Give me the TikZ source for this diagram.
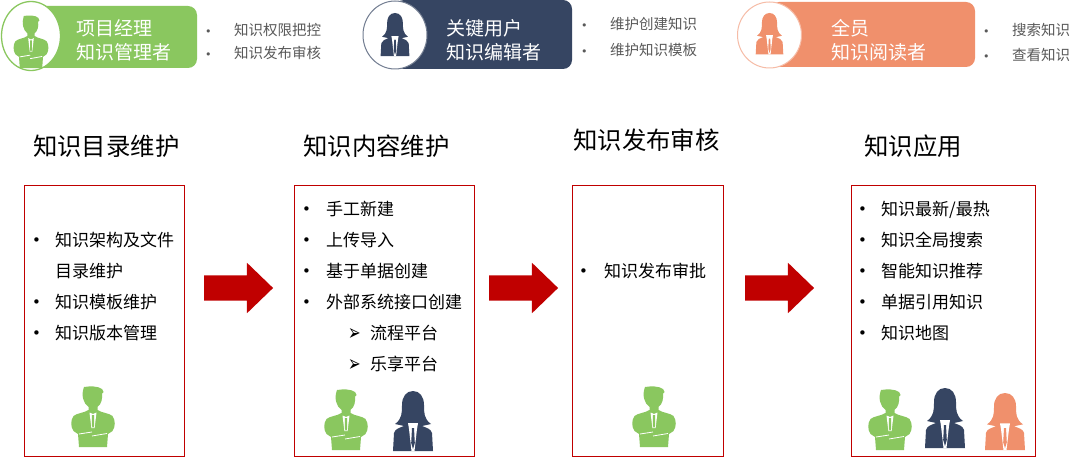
\documentclass[tikz,border=0pt]{standalone}
\usepackage{graphicx}
\usepackage{fontspec}
\setmainfont{Noto Sans CJK SC}
\newfontfamily\symfont{DejaVu Sans}
\usetikzlibrary{shapes.arrows}
\definecolor{leaf}{HTML}{8AC75F}
\definecolor{navy}{HTML}{364562}
\definecolor{coral}{HTML}{F0906C}
\definecolor{panelred}{HTML}{C00000}
\definecolor{note}{HTML}{595959}
\newcommand{\tallarrow}{\scalebox{1}[1.5]{➢}}
\tikzset{
  x=1pt,y=-1pt,
  lbl/.style={inner sep=0pt,anchor=west,text depth=0pt,text height=#1},
  role/.style={lbl=16pt,font=\fontsize{19}{19}\selectfont,text=white},
  duty/.style={lbl=14pt,font=\fontsize{14.5}{14.5}\selectfont,text=note},
  notedot/.style={lbl=13.6pt,font=\symfont\fontsize{11}{11}\selectfont,text=note},
  heading/.style={lbl=20pt,font=\fontsize{24.4}{24.4}\selectfont,text=black},
  item/.style={lbl=13.4pt,font=\fontsize{17}{17}\selectfont,text=black},
  itemdot/.style={lbl=11.4pt,font=\symfont\fontsize{15}{15}\selectfont,text=black},
  subdot/.style={lbl=15pt,font=\symfont\fontsize{15}{15}\selectfont,text=black},
  panel/.style={draw=panelred,line width=1pt,fill=white},
  flow/.style={single arrow,fill=panelred,draw=none,inner xsep=0pt,inner ysep=12.5pt,
    minimum height=69pt,
    single arrow head extend=12.5pt,single arrow tip angle=88,
    single arrow head indent=0pt},
  pics/man/.style={code={
    \fill[#1] (-9,0) .. controls (-3,-1) and (5,-1) .. (9,2) -- (10.5,5) -- (9,6.5)
      .. controls (9.5,12) and (8.5,17) .. (4.5,20) -- (4.5,23)
      .. controls (9,26) and (16,26) .. (19.5,29)
      .. controls (22.5,33) and (22.5,40) .. (19.5,44) -- (15,47) -- (14,60) -- (-14,60) -- (-15,47) -- (-19.5,44)
      .. controls (-22.5,40) and (-22.5,33) .. (-19.5,29)
      .. controls (-16,26) and (-9,26) .. (-4.5,23) -- (-4.5,20)
      .. controls (-10,16) and (-12,8) .. (-9,0) -- cycle;
    \fill[white] (-3.5,25.5) -- (0,27) -- (3.5,25.5) -- (1.6,41) -- (-1.6,41) -- cycle;
    \fill[#1] (-1,28) -- (1,28) -- (1.2,39) -- (0,41) -- (-1.2,39) -- cycle;
    \draw[white,line width=.8pt] (-14,47) -- (-1,45) (-1,49) -- (14,46.5);
  }},
  pics/woman/.style={code={
    \fill[#1] (0,0) .. controls (7,0) and (11,6) .. (11,14)
      .. controls (11,22) and (11,28) .. (18,33) -- (9,35)
      .. controls (14,37) and (18,38) .. (19,42) -- (20,60) -- (-20,60) -- (-19,42)
      .. controls (-18,38) and (-14,37) .. (-9,35) -- (-18,33)
      .. controls (-11,28) and (-11,22) .. (-11,14)
      .. controls (-11,6) and (-7,0) .. (0,0) -- cycle;
    \fill[white] (-5,32) -- (5,32) -- (4,38) -- (1.5,60) -- (-1.5,60) -- (-4,38) -- cycle;
    \fill[#1] (-1,37) -- (1,37) -- (1.8,52) -- (0,58) -- (-1.8,52) -- cycle;
  }},
}
\begin{document}
\begin{tikzpicture}
\useasboundingbox[fill=white] (0,0) rectangle (1080,457);

% role badges along the top
\fill[leaf,rounded corners=9pt] (30,6) rectangle (197,68);
\draw[leaf,line width=1.3pt,fill=white] (31,36) ellipse [x radius=29.5,y radius=34.5];
\pic[yscale=.87,xscale=.8] at (31,16) {man=leaf};
\node[role] (pmA) at (76,28) {项目经理};
\node[role] (pmB) at (76,52) {知识管理者};
\node[notedot] (pmDotA) at (205,29) {•};
\node[duty] (pmDutyA) at (234,29) {知识权限把控};
\node[notedot] (pmDotB) at (205,52) {•};
\node[duty] (pmDutyB) at (234,52) {知识发布审核};

\fill[navy,rounded corners=9pt] (395,0) rectangle (572,69);
\draw[navy!70,line width=1pt,fill=white] (395,35) ellipse [x radius=32,y radius=34];
\pic[scale=.72] at (395,13) {woman=navy};
\node[role] (kuA) at (446,28) {关键用户};
\node[role] (kuB) at (446,52) {知识编辑者};
\node[notedot] (kuDotA) at (581,23) {•};
\node[duty] (kuDutyA) at (610,23) {维护创建知识};
\node[notedot] (kuDotB) at (581,49) {•};
\node[duty] (kuDutyB) at (610,49) {维护知识模板};

\fill[coral,rounded corners=9pt] (770,2) rectangle (975,67);
\draw[coral!60,line width=1pt,fill=white] (769.5,35) ellipse [x radius=32,y radius=33];
\pic[scale=.69] at (769.5,13) {woman=coral};
\node[role] (allA) at (831,28) {全员};
\node[role] (allB) at (831,52) {知识阅读者};
\node[notedot] (allDotA) at (983,29) {•};
\node[duty] (allDutyA) at (1012,29) {搜索知识};
\node[notedot] (allDotB) at (983,54) {•};
\node[duty] (allDutyB) at (1012,54) {查看知识};

% stage headings
\node[heading] (titleA) at (33,146) {知识目录维护};
\node[heading] (titleB) at (303,146) {知识内容维护};
\node[heading] (titleC) at (573,140) {知识发布审核};
\node[heading] (titleD) at (864,146) {知识应用};

% stage panels
\draw[panel] (24,185.5) rectangle (184,456.5);
\draw[panel] (294,185.5) rectangle (474,456.5);
\draw[panel] (572.5,185.5) rectangle (723,456.5);
\draw[panel] (851,185.5) rectangle (1035,456.5);

% first stage
\node[itemdot] (aM1) at (32,240) {•};
\node[item] (a1) at (55,240) {知识架构及文件};
\node[item] (a1b) at (55,271) {目录维护};
\node[itemdot] (aM2) at (32,302) {•};
\node[item] (a2) at (55,302) {知识模板维护};
\node[itemdot] (aM3) at (32,333) {•};
\node[item] (a3) at (55,333) {知识版本管理};
\pic at (93,387) {man=leaf};

% second stage
\node[itemdot] (bM1) at (302,209) {•};
\node[item] (b1) at (326,209) {手工新建};
\node[itemdot] (bM2) at (302,240) {•};
\node[item] (b2) at (326,240) {上传导入};
\node[itemdot] (bM3) at (302,271) {•};
\node[item] (b3) at (326,271) {基于单据创建};
\node[itemdot] (bM4) at (302,302) {•};
\node[item] (b4) at (326,302) {外部系统接口创建};
\node[subdot] (bS1) at (348,333) {\tallarrow};
\node[item] (b5) at (370,333) {流程平台};
\node[subdot] (bS2) at (348,364) {\tallarrow};
\node[item] (b6) at (370,364) {乐享平台};
\pic at (346,390) {man=leaf};
\pic at (413,391) {woman=navy};

% third stage
\node[itemdot] (cM1) at (579,271) {•};
\node[item] (c1) at (604,271) {知识发布审批};
\pic at (654,387) {man=leaf};

% fourth stage
\node[itemdot] (dM1) at (858,209) {•};
\node[item] (d1) at (881,209) {知识最新/最热};
\node[itemdot] (dM2) at (858,240) {•};
\node[item] (d2) at (881,240) {知识全局搜索};
\node[itemdot] (dM3) at (858,271) {•};
\node[item] (d3) at (881,271) {智能知识推荐};
\node[itemdot] (dM4) at (858,302) {•};
\node[item] (d4) at (881,302) {单据引用知识};
\node[itemdot] (dM5) at (858,333) {•};
\node[item] (d5) at (881,333) {知识地图};
\pic at (890,390) {man=leaf};
\pic at (945,388) {woman=navy};
\pic[yscale=.95] at (1005,393) {woman=coral};

% arrows between stages
\node[flow] (flowA) at (232,288) {};
\node[flow] (flowB) at (517,288) {};
\node[flow] (flowC) at (773,288) {};
\end{tikzpicture}
\end{document}
